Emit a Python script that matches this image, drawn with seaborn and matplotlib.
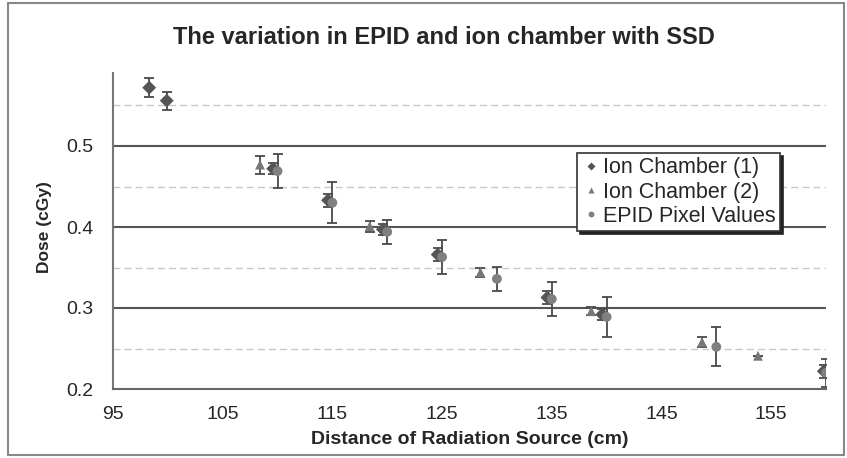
import matplotlib
matplotlib.use("Agg")
import matplotlib.pyplot as plt
import seaborn as sns
import pandas as pd
from matplotlib.patches import Rectangle

# ---- data ----
ic1_x = [98.3, 99.9, 109.6, 114.6, 119.6, 124.6, 134.6, 139.6, 159.8]
ic1_y = [0.572, 0.556, 0.472, 0.433, 0.397, 0.366, 0.313, 0.292, 0.222]
ic1_err = [0.012, 0.011, 0.007, 0.008, 0.007, 0.008, 0.008, 0.007, 0.008]

ic2_x = [108.4, 118.4, 128.5, 138.6, 148.7, 153.8]
ic2_y = [0.477, 0.401, 0.344, 0.296, 0.258, 0.241]
ic2_err = [0.011, 0.007, 0.006, 0.005, 0.006, 0.0]

epid_x = [110, 115, 120, 125, 130, 135, 140, 150, 160]
epid_y = [0.469, 0.430, 0.394, 0.363, 0.336, 0.311, 0.289, 0.252, 0.220]
epid_err = [0.021, 0.025, 0.015, 0.021, 0.015, 0.021, 0.025, 0.024, 0.017]

labels = ["Ion Chamber (1)", "Ion Chamber (2)", "EPID Pixel Values"]
title = "The variation in EPID and ion chamber with SSD"
xlabel = "Distance of Radiation Source (cm)"
ylabel = "Dose (cGy)"
xticks = [95, 105, 115, 125, 135, 145, 155]
yticks = [0.2, 0.3, 0.4, 0.5]

sns.set_style("white")
plt.rcParams['font.family'] = ['Liberation Sans', 'DejaVu Sans']

fig = plt.figure(figsize=(8.47, 4.58), dpi=100)
ax = fig.add_axes([113/847, 1-389/458, (826-113)/847, (389-65)/458])

df = pd.concat([
    pd.DataFrame({"x": ic1_x, "y": ic1_y, "s": labels[0]}),
    pd.DataFrame({"x": ic2_x, "y": ic2_y, "s": labels[1]}),
    pd.DataFrame({"x": epid_x, "y": epid_y, "s": labels[2]}),
])

# gridlines
for yv in [0.25, 0.35, 0.45, 0.55]:
    ax.axhline(yv, color="#c8c8c8", lw=1.0, ls=(0, (5, 3)), zorder=0)
for yv in [0.3, 0.4, 0.5]:
    ax.axhline(yv, color="#555555", lw=1.5, zorder=0)

err_color = "#4a4a4a"
for xs, ys, es in [(ic1_x, ic1_y, ic1_err), (ic2_x, ic2_y, ic2_err), (epid_x, epid_y, epid_err)]:
    ax.errorbar(xs, ys, yerr=es, fmt="none", ecolor=err_color, elinewidth=1.3,
                capsize=3.5, capthick=1.3, zorder=2)

sns.scatterplot(data=df, x="x", y="y", hue="s", style="s",
                markers={labels[0]: "D", labels[1]: "^", labels[2]: "o"},
                palette={labels[0]: "#555555", labels[1]: "#777777", labels[2]: "#808080"},
                s=50, edgecolor="none", ax=ax, zorder=3, legend=True)

ax.set_xlim(95, 160)
ax.set_ylim(0.2, 0.6)
ax.set_xticks(xticks)
ax.set_yticks(yticks)
ax.set_xticklabels([str(t) for t in xticks], fontsize=14)
ax.set_yticklabels([f"{t:.1f}" for t in yticks], fontsize=14)
ax.tick_params(axis="x", length=4, width=1.2, color="#555555", direction="inout", pad=10)
ax.tick_params(axis="y", length=4, width=1.0, color="#aaaaaa", direction="out", pad=10)

for sp in ["top", "right"]:
    ax.spines[sp].set_visible(False)
ax.spines["left"].set_color("#777777")
ax.spines["left"].set_linewidth(1.5)
ax.spines["left"].set_bounds(0.2, 0.59)
ax.spines["bottom"].set_color("#666666")
ax.spines["bottom"].set_linewidth(1.5)

ax.set_xlabel(xlabel, fontsize=14, fontweight="bold", labelpad=6)
ax.set_ylabel(ylabel, fontsize=12.5, fontweight="bold", labelpad=10)
fig.text(444/847, 1-38/458, title, ha="center", va="center", fontsize=17, fontweight="bold")

handles, lbls = ax.get_legend_handles_labels()
leg = ax.legend(handles, lbls, loc="upper left", bbox_to_anchor=((577-113)/713, (389-153)/324),
                fontsize=15.5, frameon=True, fancybox=False, borderpad=0.2, handletextpad=0.1,
                labelspacing=0.15, markerscale=0.6, handlelength=0.9, borderaxespad=0,
                shadow={"color": "#222222", "alpha": 1.0}, )
leg.get_frame().set_edgecolor("#333333")
leg.get_frame().set_linewidth(1.2)

fig.patches.append(Rectangle((8/847, 3/458), 836/847, 452/458, transform=fig.transFigure,
                             fill=False, edgecolor="#888888", lw=1.5))

fig.savefig("out.png", dpi=100)
